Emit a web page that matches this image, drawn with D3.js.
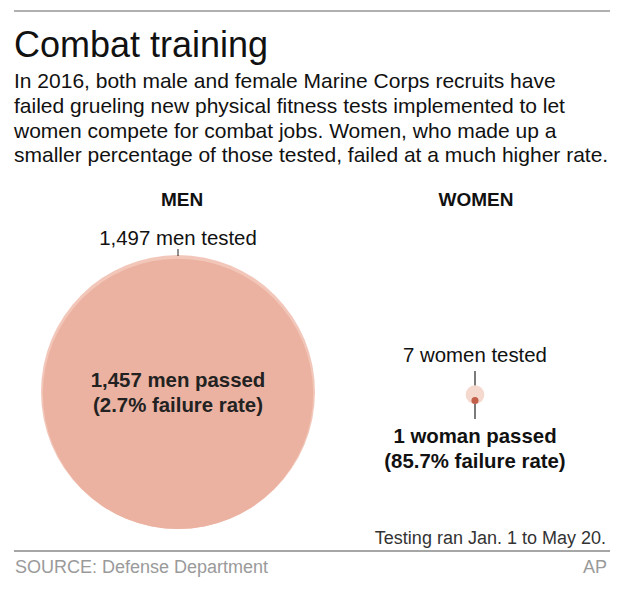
<!DOCTYPE html>
<html><head><meta charset="utf-8">
<script src="https://cdn.jsdelivr.net/npm/d3@7"></script>
<style>
html,body{margin:0;padding:0;background:#fff;}
text{font-family:"Liberation Sans",Arial,Helvetica,sans-serif;}
</style></head>
<body>
<script>
const groups = ["MEN", "WOMEN"];
const tested = [1497, 7];
const passed = [1457, 1];
const testedLabels = ["1,497 men tested", "7 women tested"];
const passedLabels = [["1,457 men passed", "(2.7% failure rate)"], ["1 woman passed", "(85.7% failure rate)"]];
const title = "Combat training";
const bodyLines = [
  "In 2016, both male and female Marine Corps recruits have",
  "failed grueling new physical fitness tests implemented to let",
  "women compete for combat jobs. Women, who made up a",
  "smaller percentage of those tested, failed at a much higher rate."
];
const note = "Testing ran Jan. 1 to May 20.";
const source = "SOURCE: Defense Department";
const credit = "AP";

const W = 640, H = 609;
const svg = d3.select("body").append("svg").attr("width", W).attr("height", H);

svg.append("line").attr("x1", 14).attr("x2", 610).attr("y1", 11).attr("y2", 11)
  .attr("stroke", "#b0b0b0").attr("stroke-width", 2);
svg.append("text").attr("x", 14).attr("y", 57).attr("font-size", 36).attr("fill", "#111").text(title);
svg.selectAll(".body").data(bodyLines).join("text").attr("class", "body")
  .attr("x", 14).attr("y", (d, i) => 88.3 + i * 24.6).attr("font-size", 21).attr("fill", "#111").text(d => d);

const x = d3.scalePoint().domain(groups).range([178, 475]);
const r = d3.scaleSqrt().domain([0, d3.max(tested)]).range([0, 137]);
const baseY = [529, 404];

// group headers
svg.selectAll(".hdr").data(groups).join("text").attr("class", "hdr")
  .attr("x", (d, i) => x(d) + (i === 0 ? 4 : 1)).attr("y", 206).attr("text-anchor", "middle")
  .attr("font-size", 19).attr("font-weight", "bold").attr("fill", "#111").text(d => d);

// men
const gm = groups[0];
svg.append("circle").attr("cx", x(gm)).attr("cy", baseY[0] - r(tested[0])).attr("r", r(tested[0])).attr("fill", "#f2c7b9");
svg.append("circle").attr("cx", x(gm)).attr("cy", baseY[0] - r(passed[0])).attr("r", r(passed[0])).attr("fill", "#ebb2a1");
svg.append("line").attr("x1", x(gm)).attr("x2", x(gm)).attr("y1", 249).attr("y2", baseY[0] - 2 * r(tested[0]) + 1)
  .attr("stroke", "#222").attr("stroke-width", 1);
svg.append("text").attr("x", x(gm)).attr("y", 245).attr("text-anchor", "middle").attr("font-size", 20.4).attr("fill", "#111").text(testedLabels[0]);
svg.selectAll(".mp").data(passedLabels[0]).join("text").attr("class", "mp")
  .attr("x", x(gm)).attr("y", (d, i) => 387 + i * 25).attr("text-anchor", "middle")
  .attr("font-size", 20.4).attr("font-weight", "bold").attr("fill", "#222").text(d => d);

// women
const gw = groups[1];
svg.append("line").attr("x1", x(gw)).attr("x2", x(gw)).attr("y1", 371).attr("y2", 419)
  .attr("stroke", "#222").attr("stroke-width", 1.2);
svg.append("circle").attr("cx", x(gw)).attr("cy", baseY[1] - r(tested[1])).attr("r", r(tested[1])).attr("fill", "#f6d9ce");
svg.append("circle").attr("cx", x(gw)).attr("cy", baseY[1] - r(passed[1])).attr("r", r(passed[1])).attr("fill", "#c2604a");
svg.append("text").attr("x", x(gw)).attr("y", 362).attr("text-anchor", "middle").attr("font-size", 20.4).attr("fill", "#111").text(testedLabels[1]);
svg.selectAll(".wp").data(passedLabels[1]).join("text").attr("class", "wp")
  .attr("x", x(gw)).attr("y", (d, i) => 443 + i * 25).attr("text-anchor", "middle")
  .attr("font-size", 20.4).attr("font-weight", "bold").attr("fill", "#111").text(d => d);

// footer
svg.append("text").attr("x", 606).attr("y", 544).attr("text-anchor", "end").attr("font-size", 18).attr("fill", "#333").text(note);
svg.append("line").attr("x1", 14).attr("x2", 610).attr("y1", 551).attr("y2", 551).attr("stroke", "#888").attr("stroke-width", 1.5);
svg.append("text").attr("x", 15).attr("y", 573).attr("font-size", 18).attr("fill", "#9a9a9a").text(source);
svg.append("text").attr("x", 607).attr("y", 573).attr("text-anchor", "end").attr("font-size", 18).attr("fill", "#9a9a9a").text(credit);
</script>
</body></html>
